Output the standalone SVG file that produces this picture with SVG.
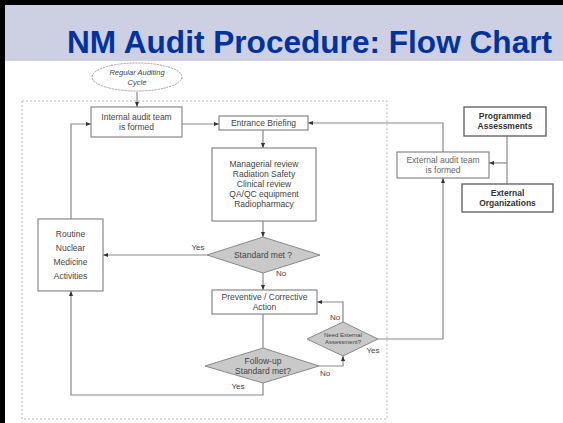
<svg xmlns="http://www.w3.org/2000/svg" width="563" height="423" viewBox="0 0 563 423">
<defs>
<marker id="ah" viewBox="0 0 10 10" refX="10" refY="5" markerWidth="5" markerHeight="5" orient="auto" markerUnits="userSpaceOnUse"><path d="M0,1 L10,5 L0,9 z" fill="#333"/></marker>
<style>
.box{fill:#fff;stroke:#888;stroke-width:1.2}
.boxb{fill:#fff;stroke:#666;stroke-width:1.4}
.dia{fill:#c9c9c9;stroke:#888;stroke-width:1}
.t{font-family:"Liberation Sans",Arial,sans-serif;font-size:8.5px;fill:#444;text-anchor:middle}
.tb{font-family:"Liberation Sans",Arial,sans-serif;font-size:8.5px;font-weight:bold;fill:#333;text-anchor:middle}
.ts{font-family:"Liberation Sans",Arial,sans-serif;font-size:6px;fill:#444;text-anchor:middle}
.ln{fill:none;stroke:#888;stroke-width:1.2}
.ar{fill:none;stroke:#888;stroke-width:1.2;marker-end:url(#ah)}
</style>
</defs>
<rect x="0" y="0" width="563" height="423" fill="#fff"/>
<rect x="0" y="5" width="563" height="56" fill="#cdd0e3"/>
<rect x="0" y="0" width="563" height="5" fill="#000"/>
<rect x="0" y="0" width="5" height="423" fill="#000"/>
<text x="309.5" y="53" font-family="Liberation Sans,Arial,sans-serif" font-size="31.6" font-weight="bold" fill="#0033a0" text-anchor="middle">NM Audit Procedure: Flow Chart</text>
<rect x="22" y="101" width="365" height="318" fill="none" stroke="#bbb" stroke-width="1" stroke-dasharray="2,2"/>

<g id="connectors">
<path class="ar" d="M137,92 V107"/>
<path class="ar" d="M182,124 H219"/>
<path class="ar" d="M443,152 V123 H308"/>
<path class="ar" d="M263,130 V148"/>
<path class="ar" d="M263,221 V237"/>
<path class="ar" d="M207,255 H103"/>
<path class="ar" d="M263,273 V290"/>
<path class="ln" d="M263,314 V348"/>
<path class="ar" d="M263,383 V395 H71 V291"/>
<path class="ar" d="M71,219 V124 H91"/>
<path class="ar" d="M319,366 H343 V356"/>
<path class="ar" d="M343,322 V302 H317"/>
<path class="ar" d="M378,339 H443 V178"/>
<path class="ln" d="M507,136 V184"/>
<path class="ar" d="M507,163 H489"/>
<text class="t" x="198" y="250" style="font-size:8px">Yes</text>
<text class="t" x="281" y="276" style="font-size:8px">No</text>
<text class="t" x="238" y="389" style="font-size:8px">Yes</text>
<text class="t" x="325" y="376" style="font-size:8px">No</text>
<text class="t" x="335" y="320" style="font-size:8px">No</text>
<text class="t" x="373" y="353" style="font-size:8px">Yes</text>
</g>

<g id="regular-cycle">
<ellipse cx="137" cy="77" rx="45" ry="14" fill="#fff" stroke="#999" stroke-width="1" stroke-dasharray="2,1"/>
<text class="t" x="137" y="75" style="font-style:italic;font-size:7.5px">Regular Auditing</text>
<text class="t" x="137" y="85" style="font-style:italic;font-size:7.5px">Cycle</text>
</g>
<g id="internal-team">
<rect class="box" x="91" y="107" width="91" height="30"/>
<text class="t" x="136.5" y="120">Internal  audit team</text>
<text class="t" x="136.5" y="130">is formed</text>
</g>
<g id="entrance-briefing">
<rect class="box" x="219" y="116" width="89" height="14"/>
<text class="t" x="263.5" y="126">Entrance Briefing</text>
</g>
<g id="reviews">
<rect class="box" x="212" y="148" width="104" height="73"/>
<text class="t" x="264" y="167">Managerial review</text>
<text class="t" x="264" y="177">Radiation Safety</text>
<text class="t" x="264" y="187">Clinical review</text>
<text class="t" x="264" y="197">QA/QC equipment</text>
<text class="t" x="264" y="207">Radiopharmacy</text>
</g>
<g id="standard-met">
<polygon class="dia" points="263,237 320,255 263,273 207,255"/>
<text class="t" x="263" y="258">Standard met ?</text>
</g>
<g id="routine">
<rect class="box" x="38" y="219" width="65" height="72"/>
<text class="t" x="70.5" y="237">Routine</text>
<text class="t" x="70.5" y="251">Nuclear</text>
<text class="t" x="70.5" y="265">Medicine</text>
<text class="t" x="70.5" y="279">Activities</text>
</g>
<g id="preventive">
<rect class="box" x="212" y="290" width="105" height="24"/>
<text class="t" x="264.5" y="300">Preventive / Corrective</text>
<text class="t" x="264.5" y="310">Action</text>
</g>
<g id="follow-up">
<polygon class="dia" points="263,348 319,366 263,383 205,366"/>
<text class="t" x="263" y="364">Follow-up</text>
<text class="t" x="263" y="374">Standard met?</text>
</g>
<g id="need-external">
<polygon class="dia" points="343,322 378,339 343,356 307,339"/>
<text class="ts" x="343" y="337">Need External</text>
<text class="ts" x="343" y="344">Assessment?</text>
</g>
<g id="external-team">
<rect class="box" x="397" y="152" width="92" height="26"/>
<text class="t" x="443" y="163" style="fill:#666">External audit team</text>
<text class="t" x="443" y="173" style="fill:#666">is formed</text>
</g>
<g id="programmed">
<rect class="boxb" x="464" y="107" width="82" height="29"/>
<text class="tb" x="505" y="119">Programmed</text>
<text class="tb" x="505" y="129">Assessments</text>
</g>
<g id="external-org">
<rect class="boxb" x="462" y="184" width="91" height="28"/>
<text class="tb" x="507.5" y="196">External</text>
<text class="tb" x="507.5" y="206">Organizations</text>
</g>
</svg>
